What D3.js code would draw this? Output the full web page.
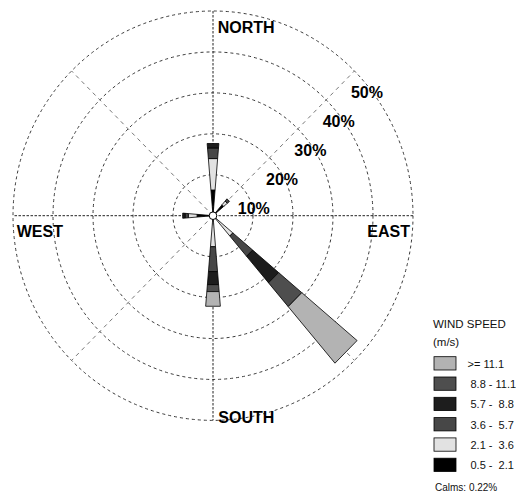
<!DOCTYPE html>
<html><head><meta charset="utf-8">
<script src="https://cdn.jsdelivr.net/npm/d3@7"></script>
<style>
html,body{margin:0;padding:0;background:#fff;}
svg{display:block;font-family:"Liberation Sans",Arial,sans-serif;}
</style></head>
<body>
<svg id="chart" width="516" height="496"></svg>
<script>
// ---- data ----
const directions = ["N","NNE","NE","ENE","E","ESE","SE","SSE","S","SSW","SW","WSW","W","WNW","NW","NNW"];
const speedClasses = ["0.5 -  2.1","2.1 -  3.6","3.6 -  5.7","5.7 -  8.8","8.8 - 11.1",">= 11.1"];
// frequency (%) per speed class, one value per direction (same order as `directions`)
const freq_0_5_2_1  = [6.3,0,3.5,0,0,0,1.0,0,1.0,0,0,0,4.0,0,0,0];
const freq_2_1_3_6  = [7.7,0,1.2,0,0,0,5.5,0,6.6,0,0,0,2.2,0,0,0];
const freq_3_6_5_7  = [2.6,0,0.7,0,0,0,6.5,0,6.1,0,0,0,0.8,0,0,0];
const freq_5_7_8_8  = [1.1,0,0,0,0,0,8.5,0,3.2,0,0,0,0.6,0,0,0];
const freq_8_8_11_1 = [0,0,0,0,0,0,7.6,0,1.7,0,0,0,0,0,0,0];
const freq_ge_11_1  = [0,0,0,0,0,0,18.1,0,3.6,0,0,0,0,0,0,0];
const ringTicks = [10,20,30,40,50];
const ringLabels = ["10%","20%","30%","40%","50%"];
const compassLabels = ["NORTH","EAST","SOUTH","WEST"];
const calmsText = "Calms: 0.22%";
const legendTitle = ["WIND SPEED","(m/s)"];

const series = [freq_0_5_2_1,freq_2_1_3_6,freq_3_6_5_7,freq_5_7_8_8,freq_8_8_11_1,freq_ge_11_1];
const colors = ["#000000","#e2e2e2","#474747","#1d1d1d","#4e4e4e","#b3b3b3"];

// ---- layout ----
const cx = 213, cy = 215.7;
const aspectX = 0.977;
const r = d3.scaleLinear().domain([0,50]).range([0,204.7]);
const ang = d3.scaleOrdinal().domain(directions).range(directions.map((d,i)=>i*22.5));
function pt(p, deg){ const a = deg*Math.PI/180; return [cx + aspectX*r(p)*Math.sin(a), cy - r(p)*Math.cos(a)]; }

const svg = d3.select("#chart");
const g = svg.append("g");

// rings
g.selectAll("ellipse.ring").data(ringTicks).enter().append("ellipse")
  .attr("cx",cx).attr("cy",cy)
  .attr("rx",d=>aspectX*r(d)).attr("ry",d=>r(d))
  .attr("fill","none").attr("stroke","#3a3a3a").attr("stroke-width",1)
  .attr("stroke-dasharray","3,3");

// main axes
[0,90].forEach(a=>{
  const p1 = pt(50,a), p2 = pt(50,a+180);
  g.append("line").attr("x1",p1[0]).attr("y1",p1[1]).attr("x2",p2[0]).attr("y2",p2[1])
   .attr("stroke","#222").attr("stroke-width",1).attr("stroke-dasharray","2.5,1.5");
});
// diagonals
[45,135,225,315].forEach(a=>{
  const p1 = pt(0,a), p2 = pt(50,a);
  g.append("line").attr("x1",p1[0]).attr("y1",p1[1]).attr("x2",p2[0]).attr("y2",p2[1])
   .attr("stroke","#777").attr("stroke-width",1).attr("stroke-dasharray","4,4");
});

// petals
const half = 4.75;
directions.forEach((d,i)=>{
  let cum = 0;
  series.forEach((s,k)=>{
    const v = s[i];
    if(v<=0) return;
    const r0 = cum, r1 = cum+v; cum = r1;
    const a = ang(d);
    const pts = [pt(r0,a-half),pt(r1,a-half),pt(r1,a+half),pt(r0,a+half)];
    g.append("path").attr("d","M"+pts.map(p=>p.join(",")).join("L")+"Z")
      .attr("fill",colors[k]).attr("stroke","#000").attr("stroke-width",0.8)
      .attr("stroke-linejoin","miter");
  });
});

// calm circle
g.append("ellipse").attr("cx",cx).attr("cy",cy).attr("rx",3.8).attr("ry",3.8)
  .attr("fill","#fff").attr("stroke","#000").attr("stroke-width",1);

// ring labels
ringTicks.forEach((t,i)=>{
  const p = pt(t,45);
  g.append("text").attr("x",p[0]-3.5).attr("y",p[1]+27.5)
   .attr("font-size",16).attr("font-weight","bold").attr("fill","#000").text(ringLabels[i]);
});

// compass labels
const compassPos = [[217.7,32.5],[367.3,237],[218.3,423],[16.7,237.3]];
compassLabels.forEach((t,i)=>{
  g.append("text").attr("x",compassPos[i][0]).attr("y",compassPos[i][1])
   .attr("font-size",16).attr("font-weight","bold").attr("fill","#000").text(t);
});

// legend
const lg = svg.append("g");
lg.append("text").attr("x",433).attr("y",328).attr("font-size",11.5).attr("fill","#111").text(legendTitle[0]);
lg.append("text").attr("x",433).attr("y",346).attr("font-size",11.5).attr("fill","#111").text(legendTitle[1]);
const legOrder = d3.range(speedClasses.length).reverse();
const ly = d3.scaleBand().domain(legOrder).range([356.7,478.5]);
legOrder.forEach(k=>{
  const y = ly(k);
  lg.append("rect").attr("x",434).attr("y",y).attr("width",22).attr("height",13.3)
    .attr("fill",colors[k]).attr("stroke","#000").attr("stroke-width",0.8);
  lg.append("text").attr("x",speedClasses[k].startsWith(">")?467.5:470.5).attr("y",y+11)
    .attr("font-size",11).attr("fill","#111").style("white-space","pre").text(speedClasses[k]);
});
lg.append("text").attr("x",435).attr("y",491).attr("font-size",10).attr("fill","#111").text(calmsText);
</script>
</body></html>
